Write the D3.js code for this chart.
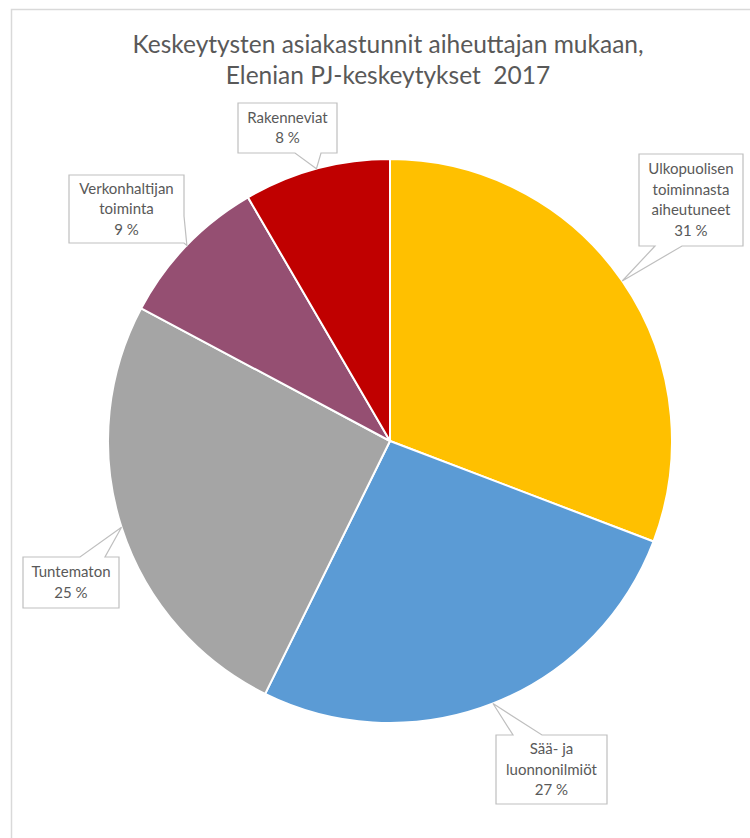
<!DOCTYPE html>
<html>
<head>
<meta charset="utf-8">
<script src="https://cdn.jsdelivr.net/npm/d3@7"></script>
<style>
  body { margin: 0; background: #ffffff; }
  svg { display: block; }
</style>
</head>
<body>
<div id="chart"></div>
<script>
// Data.
const categories = ["Ulkopuolisen toiminnasta aiheutuneet", "Sää- ja luonnonilmiöt", "Tuntematon", "Verkonhaltijan toiminta", "Rakenneviat"];
const values = [30.8, 26.5, 25.5, 8.8, 8.4];
const percentLabels = ["31 %", "27 %", "25 %", "9 %", "8 %"];
const labelLines = [
  ["Ulkopuolisen", "toiminnasta", "aiheutuneet"],
  ["Sää- ja", "luonnonilmiöt"],
  ["Tuntematon"],
  ["Verkonhaltijan", "toiminta"],
  ["Rakenneviat"]
];
const colors = ["#ffc000", "#5b9bd5", "#a5a5a5", "#954f72", "#c00000"];

// Callout box layout (box position, size, which edge the pointer leaves from).
const boxes = [
  {x: 639, y: 154, w: 104, h: 92, side: "bottom", a: 655, b: 682},
  {x: 496, y: 735, w: 111, h: 69, side: "top", a: 513, b: 542},
  {x: 23, y: 557, w: 96, h: 51, side: "top", a: 80, b: 105},
  {x: 69, y: 175, w: 115, h: 68, side: "right", a: 216, b: 243},
  {x: 238, y: 103, w: 99, h: 50, side: "bottom", a: 295, b: 321}
];

const textColor = "#595959";
const fontFamily = "Lato, 'Open Sans', sans-serif";

const width = 750, height = 838;
const cx = 390, cy = 441, radius = 282;

const svg = d3.select("#chart")
  .append("svg")
    .attr("width", width)
    .attr("height", height);

// Chart frame.
svg.append("rect")
  .attr("x", 11.5)
  .attr("y", 9.5)
  .attr("width", width)
  .attr("height", height)
  .attr("fill", "none")
  .attr("stroke", "#d9d9d9")
  .attr("stroke-width", 1.5);

// Title.
const title = svg.append("text")
  .attr("text-anchor", "middle")
  .style("font-family", fontFamily)
  .style("font-size", "24.5px")
  .style("fill", textColor)
  .style("white-space", "pre");

title.append("tspan").attr("x", 388).attr("y", 53).text("Keskeytysten asiakastunnit aiheuttajan mukaan,");
title.append("tspan").attr("x", 388).attr("y", 84).text("Elenian PJ-keskeytykset  2017");

// Pie.
const data = categories.map((c, i) => ({name: c, value: values[i], i: i}));

const pie = d3.pie()
  .sort(null)
  .value(d => d.value);

const arcs = pie(data);

const arc = d3.arc()
  .innerRadius(0)
  .outerRadius(radius);

// Arc used to find where the pointer touches the slice edge.
const edgeArc = d3.arc()
  .innerRadius(radius)
  .outerRadius(radius);

const g = svg.append("g")
  .attr("transform", "translate(" + cx + "," + cy + ")");

g.selectAll("path.slice")
  .data(arcs)
  .enter()
  .append("path")
    .attr("class", "slice")
    .attr("d", arc)
    .attr("fill", d => colors[d.index])
    .attr("stroke", "#ffffff")
    .attr("stroke-width", 2)
    .attr("stroke-linejoin", "round");

// Callout shape: rectangle with a pointer wedge on one side.
function calloutPath(bx, tip) {
  const x0 = bx.x, y0 = bx.y, x1 = bx.x + bx.w, y1 = bx.y + bx.h;
  const p = d3.path();
  p.moveTo(x0, y0);
  if (bx.side === "top") {
    p.lineTo(bx.a, y0);
    p.lineTo(tip[0], tip[1]);
    p.lineTo(bx.b, y0);
  }
  p.lineTo(x1, y0);
  if (bx.side === "right") {
    p.lineTo(x1, bx.a);
    p.lineTo(tip[0], tip[1]);
    p.lineTo(x1, bx.b);
  }
  p.lineTo(x1, y1);
  if (bx.side === "bottom") {
    p.lineTo(bx.b, y1);
    p.lineTo(tip[0], tip[1]);
    p.lineTo(bx.a, y1);
  }
  p.lineTo(x0, y1);
  p.closePath();
  return p.toString();
}

const labels = svg.append("g")
  .selectAll("g.label")
  .data(arcs)
  .enter()
  .append("g")
    .attr("class", "label");

labels.append("path")
  .attr("d", d => {
    const c = edgeArc.centroid(d);
    return calloutPath(boxes[d.index], [c[0] + cx, c[1] + cy]);
  })
  .attr("fill", "#ffffff")
  .attr("stroke", "#bfbfbf")
  .attr("stroke-width", 1.2);

labels.each(function(d) {
  const bx = boxes[d.index];
  const lines = labelLines[d.index].concat([percentLabels[d.index]]);
  const lineH = 20.5;
  const startY = bx.y + bx.h / 2 - (lines.length - 1) * lineH / 2 + 5;
  const t = d3.select(this).append("text")
    .attr("text-anchor", "middle")
    .style("font-family", fontFamily)
    .style("font-size", "15px")
    .style("fill", textColor);
  lines.forEach((ln, k) => {
    t.append("tspan")
      .attr("x", bx.x + bx.w / 2)
      .attr("y", startY + k * lineH)
      .text(ln);
  });
});
</script>
</body>
</html>
